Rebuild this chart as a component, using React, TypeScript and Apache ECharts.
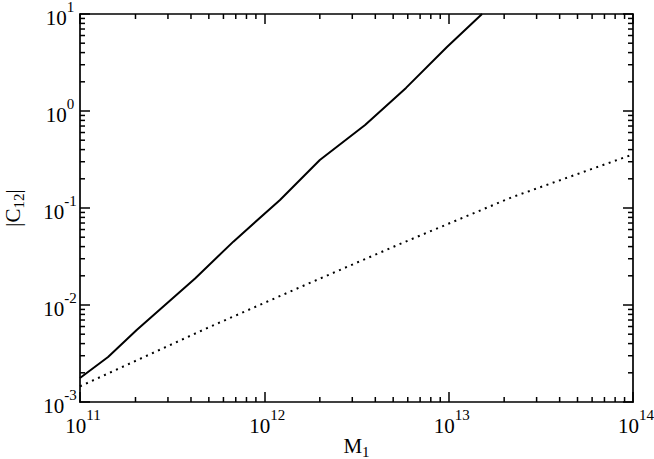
import React, { useEffect, useRef } from "react";
import * as echarts from "echarts";

// Axis ranges
const X_MIN = 1e11;
const X_MAX = 1e14;
const Y_MIN = 1e-3;
const Y_MAX = 10;

// Solid curve (|C12| vs M1)
const solidM1 = [1e11, 1.42e11, 2.03e11, 4.21e11, 6.79e11, 1.216e12, 2.0e12, 3.52e12, 5.87e12, 9.79e12, 1.517e13];
const solidC12 = [1.77e-3, 2.91e-3, 5.52e-3, 1.88e-2, 4.5e-2, 0.121, 0.313, 0.718, 1.73, 4.57, 10];

// Dotted curve
const dottedM1 = [1e11, 4.86e11, 1.63e12, 5.56e12, 2.2e13, 1e14];
const dottedC12 = [1.45e-3, 5.75e-3, 1.58e-2, 4.33e-2, 0.129, 0.357];

// Minor tick positions (2..9 within each decade)
const xDecades = [11, 12, 13];
const yDecades = [-3, -2, -1, 0];
const minorMults = [2, 3, 4, 5, 6, 7, 8, 9];

const FONT = "Liberation Serif";

const richLabel = {
  b: { fontSize: 21, lineHeight: 29.7, verticalAlign: "bottom", fontFamily: FONT, color: "#000" },
  s: { fontSize: 15, verticalAlign: "top", fontFamily: FONT, color: "#000" },
};

const richName = {
  b: { fontSize: 21, lineHeight: 24, verticalAlign: "top", fontFamily: FONT, color: "#000" },
  s: { fontSize: 15, verticalAlign: "bottom", fontFamily: FONT, color: "#000" },
};

const powLabel = (v: number) => {
  const e = Math.round(Math.log10(v));
  return "{b|10}{s|" + e + "}";
};

export default function App() {
  const ref = useRef<HTMLDivElement>(null);

  useEffect(() => {
    if (!ref.current) return;
    const chart = echarts.init(ref.current, undefined, { renderer: "svg" });

    const xMinor: number[] = [];
    xDecades.forEach((d) => minorMults.forEach((m) => xMinor.push(m * Math.pow(10, d))));
    const yMinor: number[] = [];
    yDecades.forEach((d) => minorMults.forEach((m) => yMinor.push(m * Math.pow(10, d))));

    const axisLine = { show: true, onZero: false, lineStyle: { color: "#000", width: 1.7 } };
    const axisTick = { show: true, inside: true, length: 10, lineStyle: { color: "#000", width: 1.5 } };
    const tickStyle = { stroke: "#000", lineWidth: 1.5 };

    const option: any = {
      animation: false,
      backgroundColor: "#fff",
      textStyle: { fontFamily: FONT },
      grid: { left: 80, right: 21, top: 14, bottom: 57, containLabel: false, outerBoundsMode: "none" },
      xAxis: [
        {
          type: "log",
          logBase: 10,
          min: X_MIN,
          max: X_MAX,
          position: "bottom",
          axisLine,
          axisTick,
          splitLine: { show: false },
          minorTick: { show: false },
          axisLabel: {
            formatter: powLabel,
            rich: richLabel,
            fontFamily: FONT,
            margin: 5,
            padding: [0, 0, 0, 6],
          },
          name: "{b|M}{s|1}",
          nameLocation: "middle",
          nameGap: 33,
          nameMoveOverlap: false,
          nameTextStyle: { rich: richName, fontFamily: FONT },
        },
        {
          type: "log",
          logBase: 10,
          min: X_MIN,
          max: X_MAX,
          position: "top",
          axisLine,
          axisTick,
          splitLine: { show: false },
          axisLabel: { show: false },
        },
      ],
      yAxis: [
        {
          type: "log",
          logBase: 10,
          min: Y_MIN,
          max: Y_MAX,
          position: "left",
          axisLine,
          axisTick,
          splitLine: { show: false },
          minorTick: { show: false },
          axisLabel: {
            formatter: powLabel,
            rich: richLabel,
            fontFamily: FONT,
            align: "center",
            margin: 20,
          },
          name: "{b||C}{s|12}{b||}",
          nameLocation: "middle",
          nameRotate: 90,
          nameGap: 54,
          nameMoveOverlap: false,
          nameTextStyle: { rich: richName, fontFamily: FONT },
        },
        {
          type: "log",
          logBase: 10,
          min: Y_MIN,
          max: Y_MAX,
          position: "right",
          axisLine,
          axisTick,
          splitLine: { show: false },
          axisLabel: { show: false },
        },
      ],
      series: [
        {
          type: "line",
          xAxisIndex: 0,
          yAxisIndex: 0,
          data: solidM1.map((x, i) => [x, solidC12[i]]),
          showSymbol: false,
          symbol: "none",
          lineStyle: { color: "#000", width: 2 },
          z: 3,
        },
        {
          type: "line",
          xAxisIndex: 0,
          yAxisIndex: 0,
          data: dottedM1.map((x, i) => [x, dottedC12[i]]),
          showSymbol: false,
          symbol: "none",
          lineStyle: { color: "#000", width: 2, type: [2, 4.6], cap: "butt" },
          z: 3,
        },
        {
          type: "custom",
          xAxisIndex: 0,
          yAxisIndex: 0,
          silent: true,
          clip: false,
          data: xMinor.map((v) => [v, Y_MIN]),
          renderItem: (_p: any, api: any) => {
            const x = api.value(0);
            const pb = api.coord([x, Y_MIN]);
            const pt = api.coord([x, Y_MAX]);
            return {
              type: "group",
              children: [
                { type: "line", shape: { x1: pb[0], y1: pb[1], x2: pb[0], y2: pb[1] - 5 }, style: tickStyle },
                { type: "line", shape: { x1: pt[0], y1: pt[1], x2: pt[0], y2: pt[1] + 5 }, style: tickStyle },
              ],
            };
          },
          z: 4,
        },
        {
          type: "custom",
          xAxisIndex: 0,
          yAxisIndex: 0,
          silent: true,
          clip: false,
          data: yMinor.map((v) => [X_MIN, v]),
          renderItem: (_p: any, api: any) => {
            const y = api.value(1);
            const pl = api.coord([X_MIN, y]);
            const pr = api.coord([X_MAX, y]);
            return {
              type: "group",
              children: [
                { type: "line", shape: { x1: pl[0], y1: pl[1], x2: pl[0] + 5, y2: pl[1] }, style: tickStyle },
                { type: "line", shape: { x1: pr[0], y1: pr[1], x2: pr[0] - 5, y2: pr[1] }, style: tickStyle },
              ],
            };
          },
          z: 4,
        },
      ],
    };

    chart.setOption(option);
    return () => chart.dispose();
  }, []);

  return (
    <div
      ref={ref}
      style={{ position: "fixed", left: 0, top: 0, width: 654, height: 459, background: "#fff" }}
    />
  );
}
